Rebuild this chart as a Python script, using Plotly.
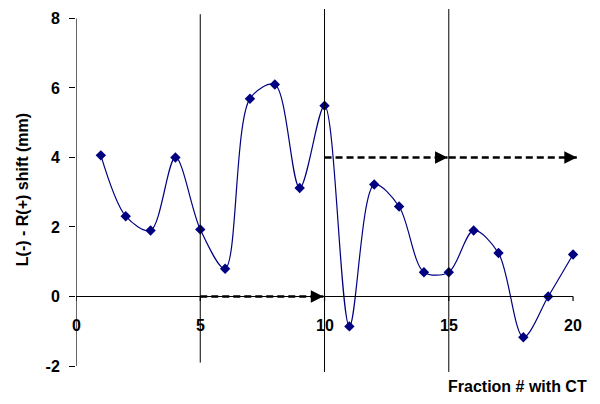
import plotly.graph_objects as go

fractions = list(range(1, 21))
shift_mm = [4.06, 2.31, 1.90, 4.00, 1.93, 0.80, 5.69, 6.10, 3.12, 5.49,
            -0.86, 3.22, 2.59, 0.70, 0.70, 1.90, 1.25, -1.17, 0.0, 1.21]
x_ticks = [0, 5, 10, 15, 20]
y_ticks = [-2, 0, 2, 4, 6, 8]
ct_fractions = [5, 10, 15]

FONT = "Arial, Liberation Sans, sans-serif"
fig = go.Figure()
fig.add_trace(go.Scatter(
    x=fractions, y=shift_mm, mode="lines+markers",
    line=dict(color="#000080", width=1.2, shape="spline", smoothing=0.9),
    marker=dict(symbol="diamond", size=8, color="#000080"),
    showlegend=False, cliponaxis=False))

shapes = []
shapes.append(dict(type="line", xref="x", yref="y", x0=0, x1=0, y0=-2, y1=8,
                   line=dict(color="black", width=1.2)))
shapes.append(dict(type="line", xref="x", yref="y", x0=0, x1=20, y0=0, y1=0,
                   line=dict(color="black", width=1.2)))
for t in x_ticks:
    shapes.append(dict(type="line", xref="x", yref="y", x0=t, x1=t, y0=0, y1=-0.13,
                       line=dict(color="black", width=1.2)))
tops = {5: 8.12, 10: 8.27, 15: 8.27}
bots = {5: -1.9, 10: -2.17, 15: -2.17}
for c in ct_fractions:
    shapes.append(dict(type="line", xref="x", yref="y", x0=c, x1=c, y0=bots[c], y1=tops[c],
                       line=dict(color="black", width=1)))
segs = [(5, 0, 9.95, 0), (10, 4, 14.95, 4), (15, 4, 20.15, 4)]
for x0, y0, x1, y1 in segs:
    shapes.append(dict(type="line", xref="x", yref="y", x0=x0, x1=x1, y0=y0, y1=y1,
                       line=dict(color="black", width=2.5, dash="7px,4px")))

annotations = []
for x0, y0, x1, y1 in segs:
    annotations.append(dict(x=x1, y=y1, ax=x1 - 0.5, ay=y1, xref="x", yref="y",
                            axref="x", ayref="y", showarrow=True, arrowhead=2,
                            arrowsize=1, arrowwidth=2.5, arrowcolor="black", text=""))
for t in x_ticks:
    annotations.append(dict(x=t, y=-0.83, xref="x", yref="y", text=f"<b>{t}</b>",
                            showarrow=False, font=dict(family=FONT, size=16, color="black")))

# page layout (the page body has an 8px margin)
OFF = 8
W, H = 600 - OFF, 404 - OFF
PL, PR, PT, PB = 76, 583, 9, 372.6   # plot area in page pixels
pw, ph = PR - PL, PB - PT

def px(x):
    return (x - PL) / pw

def py(y):
    return (PB - y) / ph

annotations.append(dict(x=px(22), y=py(190), xref="paper", yref="paper",
                        xanchor="center", yanchor="middle",
                        text="<b>L(-) - R(+) shift (mm)</b>", showarrow=False, textangle=-90,
                        font=dict(family=FONT, size=16, color="black")))
annotations.append(dict(x=px(589), y=py(386), xref="paper", yref="paper",
                        text="<b>Fraction # with CT</b>", showarrow=False,
                        xanchor="right", yanchor="middle",
                        font=dict(family=FONT, size=16, color="black")))

fig.update_layout(
    width=W, height=H,
    margin=dict(l=PL - OFF, r=600 - PR, t=PT - OFF, b=404 - PB, autoexpand=False),
    plot_bgcolor="white", paper_bgcolor="white",
    shapes=shapes, annotations=annotations,
    xaxis=dict(range=[0, 20.4], showgrid=False, zeroline=False, showline=False,
               showticklabels=False, ticks="", automargin=False),
    yaxis=dict(range=[-2.2, 8.27], showgrid=False, zeroline=False, showline=False,
               tickvals=y_ticks, ticktext=[f"<b>{v}</b>" for v in y_ticks],
               ticks="outside", ticklen=6, tickwidth=1.2, tickcolor="black",
               ticklabelstandoff=6, automargin=False,
               tickfont=dict(family=FONT, size=16, color="black")),
)
fig.write_html("out.html")
